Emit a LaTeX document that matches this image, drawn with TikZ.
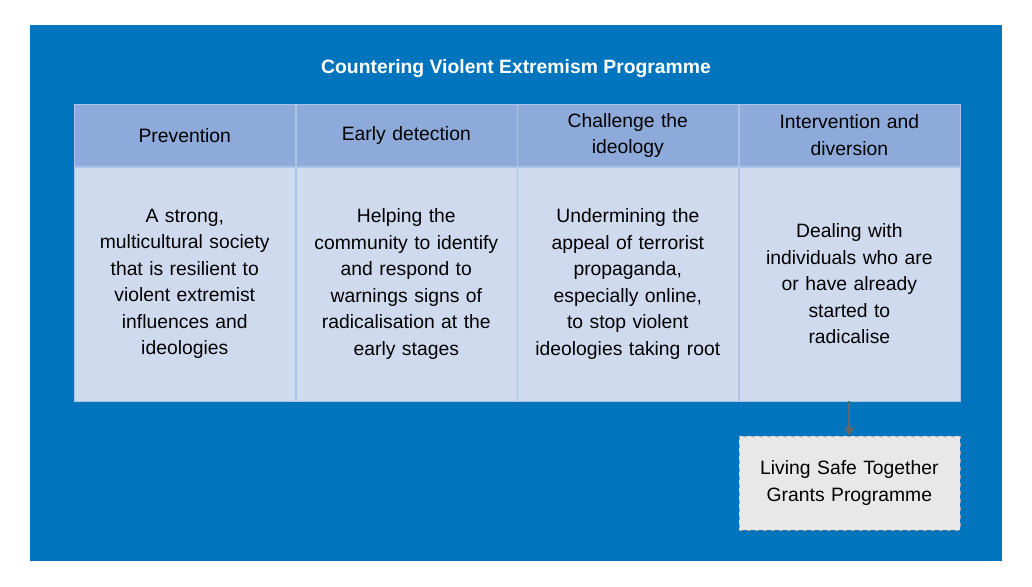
\documentclass[tikz,border=0pt]{standalone}
\usepackage{fontspec}
\setmainfont{Liberation Sans}
\usetikzlibrary{arrows.meta, positioning}
\definecolor{cvblue}{RGB}{0,117,190}
\definecolor{cvhead}{RGB}{141,170,219}
\definecolor{cvbody}{RGB}{207,218,239}
\definecolor{cvline}{RGB}{170,195,230}
\definecolor{cvgrey}{RGB}{232,232,232}

\begin{document}
\begin{tikzpicture}[x=0.75pt, y=-0.75pt,
    every node/.style={font=\fontsize{14.5}{19.9}\selectfont, align=center, inner sep=0pt},
    headbox/.style={fill=cvhead, draw=cvline, thin, minimum width=165.75pt,
      minimum height=46.5pt, text width=160pt},
    bodybox/.style={fill=cvbody, draw=cvline, thin, minimum width=165.75pt,
      minimum height=175.5pt, text width=160pt}]
  \useasboundingbox (0,0) rectangle (1032,586);
  % Frame
  \fill[cvblue] (30,25) rectangle (1002,561);
  \node[text=white, font=\fontsize{14.5}{18}\selectfont\bfseries] (title) at (516,69)
    {Countering Violent Extremism Programme};

  % Header row
  \node[headbox, anchor=north west] (h1) at (74,104) {Prevention};
  \node[headbox, right=0pt of h1] (h2) {Early detection};
  \node[headbox, right=0pt of h2] (h3) {Challenge the\\ideology};
  \node[headbox, right=0pt of h3] (h4) {Intervention and\\diversion};

  % Body row
  \node[bodybox, below=0pt of h1] (b1) {A strong,\\multicultural society\\that is resilient to\\violent extremist\\influences and\\ideologies};
  \node[bodybox, below=0pt of h2] (b2) {Helping the\\community to identify\\and respond to\\warnings signs of\\radicalisation at the\\early stages};
  \node[bodybox, below=0pt of h3] (b3) {Undermining the\\appeal of terrorist\\propaganda,\\especially online,\\to stop violent\\ideologies taking root};
  \node[bodybox, below=0pt of h4] (b4) {Dealing with\\individuals who are\\or have already\\started to\\radicalise};

  % Grants box
  \node[fill=cvgrey, draw=gray!70, dashed, minimum width=165.75pt, minimum height=70.5pt,
        text width=160pt, below=26pt of b4] (grant) {Living Safe Together\\Grants Programme};
  \draw[-{Triangle[length=6pt,width=7pt]}, line width=1.5pt, gray!80!black] (b4) -- (grant);
\end{tikzpicture}
\end{document}
